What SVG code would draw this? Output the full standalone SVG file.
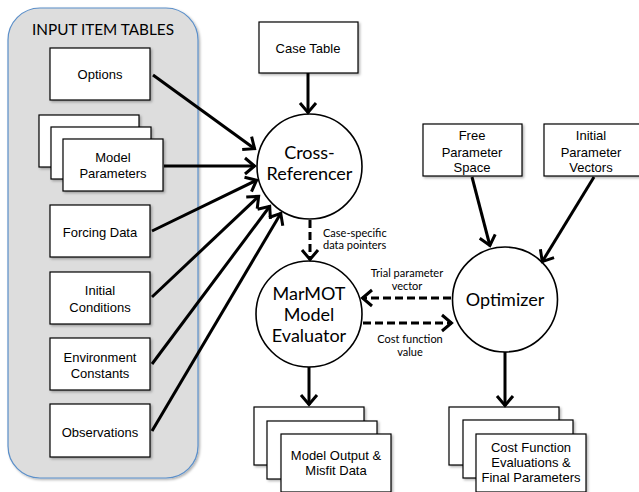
<svg xmlns="http://www.w3.org/2000/svg" width="639" height="492" viewBox="0 0 639 492">
<style>
.box{fill:#fff;stroke:#000;stroke-width:1.2}
.circ{fill:#fff;stroke:#000;stroke-width:1.6}
.bt{font-family:"Liberation Sans",Arial,sans-serif;font-size:13px;fill:#000;text-anchor:middle}
.ct{font-family:Lato,"Open Sans",sans-serif;font-size:18px;fill:#000;text-anchor:middle}
.lt{font-family:Lato,"Open Sans",sans-serif;font-size:11px;fill:#000}
.con{fill:none;stroke:#000;stroke-width:3;marker-end:url(#ah)}
.dash{stroke-dasharray:8,4}
</style>
<defs>
<marker id="ah" markerUnits="userSpaceOnUse" markerWidth="24" markerHeight="24" viewBox="-14 -12 16 24" refX="0" refY="0" orient="auto">
<path d="M-10,-8 L-0.5,0 L-10,8" fill="none" stroke="#000" stroke-width="3"/>
</marker>
<filter id="sh" x="-10%" y="-10%" width="130%" height="130%">
<feDropShadow dx="1.5" dy="1.5" stdDeviation="1.2" flood-color="#000" flood-opacity="0.3"/>
</filter>
</defs>

<g id="panel">
<rect x="8" y="8" width="190" height="470" rx="32" ry="32" fill="#dddddd" stroke="#5b8fc9" stroke-width="1.2" filter="url(#sh)"/>
<text x="103" y="35" font-family="Lato,'Open Sans',sans-serif" font-size="16" text-anchor="middle" textLength="142" lengthAdjust="spacingAndGlyphs">INPUT ITEM TABLES</text>
</g>

<g id="options"><rect class="box" x="50" y="48" width="100" height="52" filter="url(#sh)"/><text class="bt" x="100" y="79">Options</text></g>
<g id="model-parameters">
<rect class="box" x="39" y="115" width="100" height="52" filter="url(#sh)"/>
<rect class="box" x="51" y="127" width="100" height="52" filter="url(#sh)"/>
<rect class="box" x="63" y="139" width="100" height="52" filter="url(#sh)"/>
<text class="bt" x="113" y="162">Model</text><text class="bt" x="113" y="178">Parameters</text></g>
<g id="forcing-data"><rect class="box" x="50" y="205" width="100" height="52" filter="url(#sh)"/><text class="bt" x="100" y="237">Forcing Data</text></g>
<g id="initial-conditions"><rect class="box" x="50" y="272" width="100" height="52" filter="url(#sh)"/><text class="bt" x="100" y="295">Initial</text><text class="bt" x="100" y="312">Conditions</text></g>
<g id="environment-constants"><rect class="box" x="50" y="338" width="100" height="52" filter="url(#sh)"/><text class="bt" x="100" y="362">Environment</text><text class="bt" x="100" y="378">Constants</text></g>
<g id="observations"><rect class="box" x="50" y="404" width="100" height="53" filter="url(#sh)"/><text class="bt" x="100" y="437">Observations</text></g>

<g id="case-table"><rect class="box" x="259" y="22" width="99" height="51" filter="url(#sh)"/><text class="bt" x="308" y="53" font-size="14">Case Table</text></g>
<g id="cross-referencer"><circle class="circ" cx="309.5" cy="166.5" r="52.5"/><text class="ct" x="309.5" y="159">Cross-</text><text class="ct" x="309.5" y="180">Referencer</text></g>
<g id="marmot"><circle class="circ" cx="309" cy="314" r="53"/><text class="ct" x="309" y="300">MarMOT</text><text class="ct" x="309" y="321">Model</text><text class="ct" x="309" y="342">Evaluator</text></g>
<g id="optimizer"><circle class="circ" cx="505" cy="299.5" r="52.5"/><text class="ct" x="505" y="306">Optimizer</text></g>

<g id="free-parameter-space"><rect class="box" x="423" y="124" width="99" height="52" filter="url(#sh)"/><text class="bt" x="472" y="140">Free</text><text class="bt" x="472" y="157">Parameter</text><text class="bt" x="472" y="172">Space</text></g>
<g id="initial-parameter-vectors"><rect class="box" x="544" y="124" width="99" height="52" filter="url(#sh)"/><text class="bt" x="591" y="140">Initial</text><text class="bt" x="591" y="157">Parameter</text><text class="bt" x="591" y="172">Vectors</text></g>

<g id="model-output">
<rect class="box" x="254" y="407" width="110" height="58" filter="url(#sh)"/>
<rect class="box" x="267" y="421" width="110" height="58" filter="url(#sh)"/>
<rect class="box" x="281" y="434" width="110" height="58" filter="url(#sh)"/>
<text class="bt" x="336" y="460" font-size="12">Model Output &amp;</text><text class="bt" x="336" y="475" font-size="12">Misfit Data</text></g>
<g id="cost-function-evaluations">
<rect class="box" x="449" y="407" width="110" height="58" filter="url(#sh)"/>
<rect class="box" x="463" y="420" width="110" height="58" filter="url(#sh)"/>
<rect class="box" x="476" y="434" width="110" height="58" filter="url(#sh)"/>
<text class="bt" x="531" y="452" font-size="12">Cost Function</text><text class="bt" x="531" y="467" font-size="12">Evaluations &amp;</text><text class="bt" x="531" y="482" font-size="12">Final Parameters</text></g>

<g id="connectors">
<line class="con" x1="153" y1="75" x2="255" y2="149"/>
<line class="con" x1="164" y1="166" x2="255" y2="166"/>
<line class="con" x1="152" y1="231" x2="257" y2="180"/>
<line class="con" x1="152" y1="297" x2="259" y2="196"/>
<line class="con" x1="152" y1="364" x2="270" y2="206"/>
<line class="con" x1="152" y1="431" x2="281" y2="213"/>
<line class="con" x1="308" y1="73" x2="308" y2="113"/>
<line class="con dash" x1="310" y1="220" x2="310" y2="260"/>
<line class="con" x1="472" y1="177" x2="490" y2="246"/>
<line class="con" x1="594" y1="177" x2="542" y2="262"/>
<line class="con dash" x1="451" y1="298" x2="362" y2="298"/>
<line class="con dash" x1="363" y1="323" x2="452" y2="323"/>
<line class="con" x1="309" y1="367" x2="309" y2="405"/>
<line class="con" x1="505" y1="352" x2="505" y2="406"/>
<text class="lt" x="323" y="237">Case-specific</text>
<text class="lt" x="323" y="249">data pointers</text>
<text class="lt" x="407" y="277" text-anchor="middle">Trial parameter</text>
<text class="lt" x="407" y="290" text-anchor="middle">vector</text>
<text class="lt" x="410" y="343" text-anchor="middle">Cost function</text>
<text class="lt" x="410" y="356" text-anchor="middle">value</text>
</g>
</svg>
